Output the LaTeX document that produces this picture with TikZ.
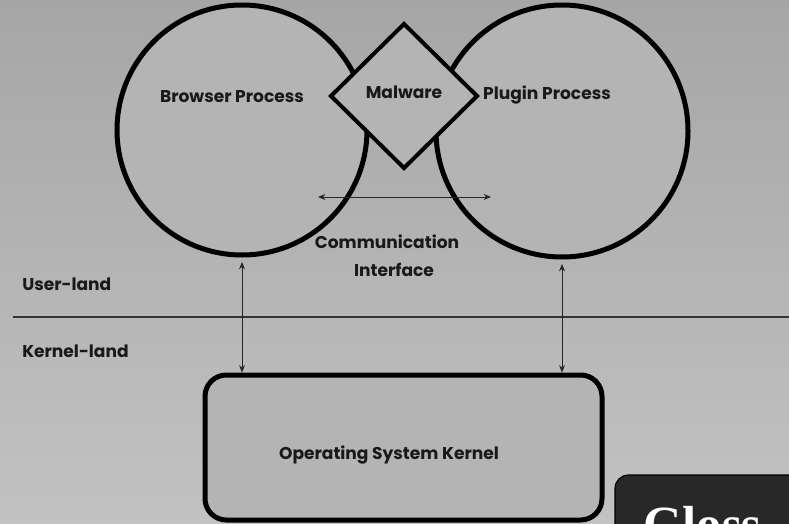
\documentclass[tikz,border=0pt]{standalone}
\usepackage{fontspec}
\setmainfont{Poppins}
\newfontfamily\glossfont{Liberation Serif}
\usetikzlibrary{shapes.geometric,arrows.meta,calc}
\definecolor{bgtop}{HTML}{A6A6A6}
\definecolor{bgbot}{HTML}{C2C2C2}
\definecolor{shapefill}{HTML}{B4B4B4}
\definecolor{panel}{HTML}{282828}
\tikzset{
  proc/.style={circle, draw=black, line width=3.75pt, fill=shapefill, inner sep=0pt, outer sep=0pt},
  gem/.style={diamond, draw=black, line width=3pt, fill=shapefill, inner sep=0pt, outer sep=0pt, aspect=1},
  kbox/.style={rectangle, rounded corners=16pt, draw=black, line width=3.75pt, fill=shapefill, inner sep=0pt},
  lbl/.style={font=\fontsize{12.8}{14}\selectfont\bfseries, inner sep=0pt, text=black!90},
  link/.style={{Stealth[length=5.5pt,width=4.5pt]}-{Stealth[length=5.5pt,width=4.5pt]}, line width=0.7pt, draw=black!85},
  sep/.style={line width=0.9pt, draw=black!80}
}
\begin{document}
\begin{tikzpicture}[x=0.75pt,y=-0.75pt]
\useasboundingbox (0,0) rectangle (789,524);
\begin{scope}
\clip (0,0) rectangle (789,524);
% backdrop
\shade[top color=bgtop, bottom color=bgbot] (0,0) rectangle (789,524);

% processes
\node[proc, minimum size=187.5pt] (browser) at (242,130) {};
\node[proc, minimum size=189pt] (plugin) at (562,131) {};
\node[gem, minimum width=109.5pt, minimum height=108pt] (malware) at (404,96) {};

\node[lbl] (browserlbl) at (232,97) {Browser Process};
\node[lbl] (pluginlbl) at (547,95) {Plugin Process};
\node[lbl] (malwarelbl) at (404,92) {Malware};

% communication interface
\coordinate (commL) at (318,197);
\coordinate (commR) at (491,197);
\draw[link] (commL) -- (commR);
\node[lbl] (comm1) at (387,242) {Communication};
\node[lbl] (comm2) at (394,270) {Interface};

% user / kernel boundary
\coordinate (sepL) at (13,317);
\coordinate (sepR) at (789,317);
\draw[sep] (sepL) -- (sepR);
\node[lbl, anchor=west] (userland) at (22,284) {User-land};
\node[lbl, anchor=west] (kernelland) at (22,351) {Kernel-land};

% kernel
\node[kbox, minimum width=297.75pt, minimum height=108.75pt] (kernel) at (403.5,447.5) {};
\node[lbl] (kernellbl) at (389,455) {Operating System Kernel};

\draw[link] ($(browser.south)+(0,7)$) -- (browser.south |- kernel.north);
\draw[link] ($(plugin.south)+(0,7)$) -- (plugin.south |- kernel.north);

% corner panel
\draw[fill=panel, draw=black, line width=0.8pt, rounded corners=10pt] (615,475) rectangle (830,580);
\node[anchor=base west, inner sep=0pt, text=white, font=\glossfont\bfseries\fontsize{38}{40}\selectfont] (gloss) at (643,541) {Gloss};
\end{scope}
\end{tikzpicture}
\end{document}
